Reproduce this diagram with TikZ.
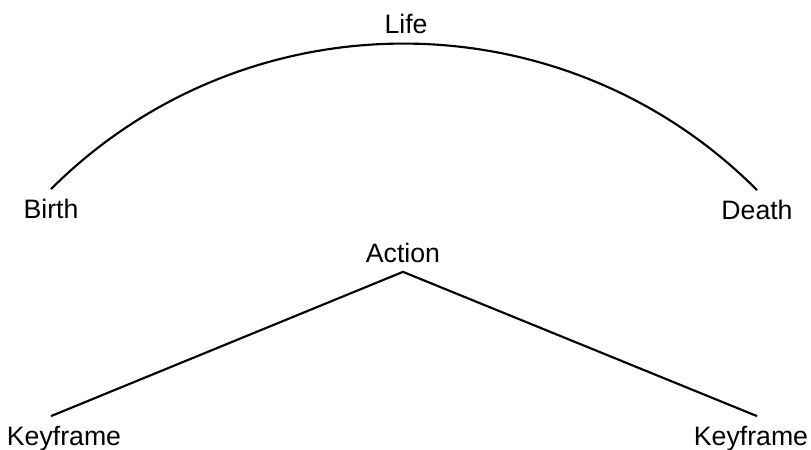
\documentclass[tikz,border=0pt]{standalone}
\usepackage{fontspec}
\setmainfont{Liberation Sans}
\usetikzlibrary{positioning}
\begin{document}
\begin{tikzpicture}[
  x=0.75pt, y=-0.75pt,
  lbl/.style={font=\fontsize{20}{24}\selectfont, inner sep=7pt, anchor=base},
  link/.style={line width=1.6pt}
]
  \useasboundingbox (0,0) rectangle (811,450);
  % life span
  \node[lbl] (life) at (406,33) {Life};
  \node[lbl] (birth) at (51,218) {Birth};
  \node[lbl] (death) at (757,219) {Death};
  \draw[link] (birth.north) to[bend left=45] (death.north);
  % action between keyframes
  \node[lbl] (action) at (403,262) {Action};
  \node[lbl] (keyL) at (64,445) {Keyframe};
  \node[lbl] (keyR) at (751,445) {Keyframe};
  \draw[link] (keyL.north -| birth) -- (action.south) -- (keyR.north -| death);
\end{tikzpicture}
\end{document}
